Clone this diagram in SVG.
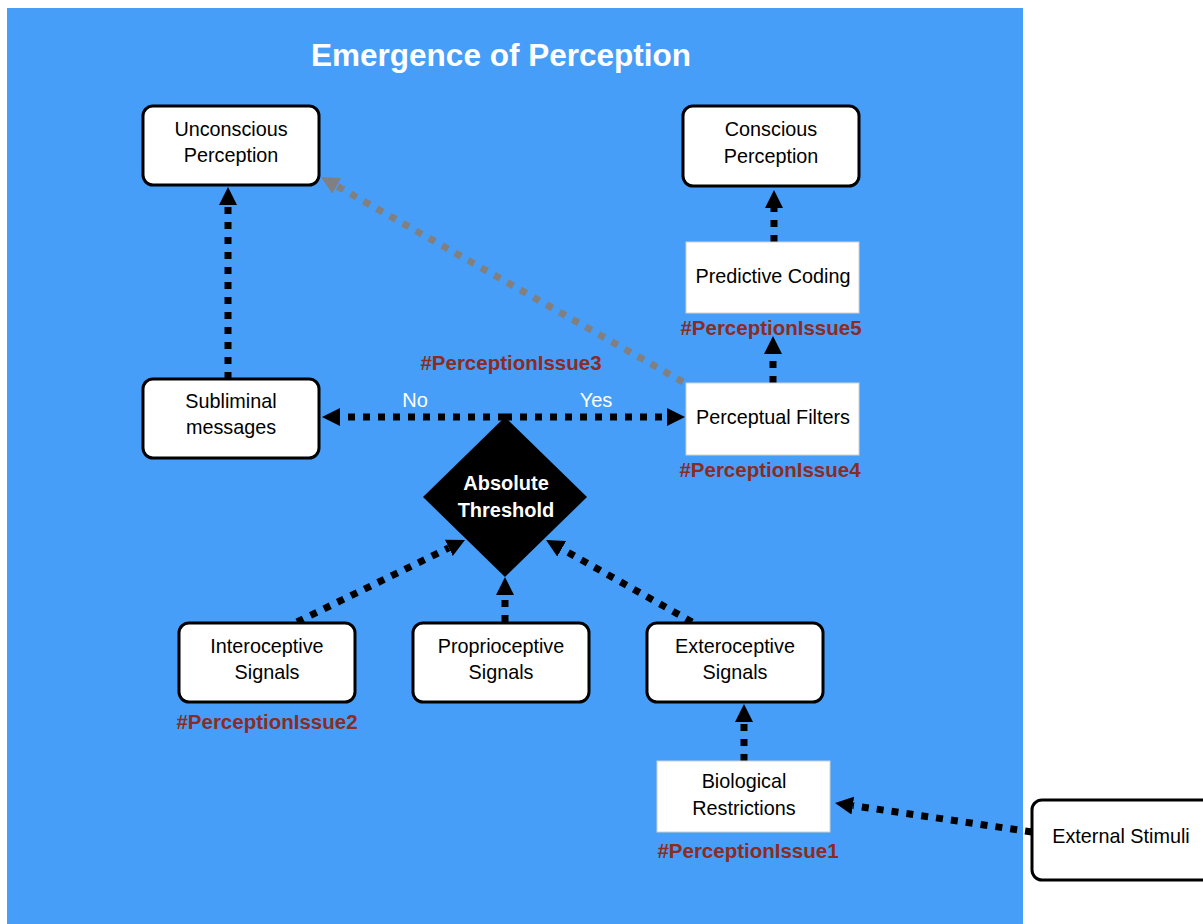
<svg xmlns="http://www.w3.org/2000/svg" width="1203" height="924" viewBox="0 0 1203 924">
  <style>
    .node rect.round { fill: #ffffff; stroke: #000000; stroke-width: 3; }
    .node rect.plain { fill: #ffffff; stroke: #d0d0d0; stroke-width: 1; }
    .label { font-family: "Liberation Sans", Arial, sans-serif; font-size: 19.8px; fill: #000000; text-anchor: middle; }
    .issue { font-family: "Liberation Sans", Arial, sans-serif; font-size: 20.5px; font-weight: bold; fill: #8c2b1f; text-anchor: middle; }
    .white { font-family: "Liberation Sans", Arial, sans-serif; fill: #ffffff; text-anchor: middle; }
    .link { fill: none; stroke: #000000; stroke-width: 7; stroke-dasharray: 7 8; }
    .link.gray { stroke: #808080; }
  </style>
  <defs>
    <marker id="head" markerUnits="userSpaceOnUse" markerWidth="20" markerHeight="20" refX="0" refY="9" orient="auto">
      <path d="M0,0 L18,9 L0,18 Z" fill="#000000"/>
    </marker>
    <marker id="head-gray" markerUnits="userSpaceOnUse" markerWidth="20" markerHeight="20" refX="0" refY="9" orient="auto">
      <path d="M0,0 L18,9 L0,18 Z" fill="#808080"/>
    </marker>
  </defs>

  <!-- panel -->
  <rect x="7" y="8" width="1016" height="916" fill="#479ef8"/>
  <text class="white" x="501" y="66" font-size="31.5" font-weight="bold">Emergence of Perception</text>

  <!-- connectors -->
  <g id="connectors">
    <path class="link" d="M228,379 L228,205" marker-end="url(#head)"/>
    <path class="link" d="M505,417 L340,417" marker-end="url(#head)"/>
    <path class="link" d="M505,417 L667,417" marker-end="url(#head)"/>
    <path class="link gray" d="M683,382 L336.7,185.9" marker-end="url(#head-gray)"/>
    <path class="link" d="M773,383 L773,354" marker-end="url(#head)"/>
    <path class="link" d="M774,242 L774,208" marker-end="url(#head)"/>
    <path class="link" d="M297,622 L448.8,547.9" marker-end="url(#head)"/>
    <path class="link" d="M505,622 L505,595" marker-end="url(#head)"/>
    <path class="link" d="M692,622 L561.7,548.8" marker-end="url(#head)"/>
    <path class="link" d="M744,761 L744,722" marker-end="url(#head)"/>
    <path class="link" d="M1032,832 L852.8,805.6" marker-end="url(#head)"/>
    <text class="white" x="415" y="407" font-size="20">No</text>
    <text class="white" x="596" y="407" font-size="20">Yes</text>
  </g>

  <!-- nodes -->
  <g id="unconscious" class="node">
    <rect class="round" x="143" y="106" width="176" height="79" rx="10"/>
    <text class="label" x="231" y="136">Unconscious</text>
    <text class="label" x="231" y="162">Perception</text>
  </g>
  <g id="conscious" class="node">
    <rect class="round" x="683" y="106" width="176" height="80" rx="10"/>
    <text class="label" x="771" y="136">Conscious</text>
    <text class="label" x="771" y="163">Perception</text>
  </g>
  <g id="predictive" class="node">
    <rect class="plain" x="686" y="242" width="173" height="71"/>
    <text class="label" x="773" y="283">Predictive Coding</text>
    <text class="issue" x="771" y="335">#PerceptionIssue5</text>
  </g>
  <g id="filters" class="node">
    <rect class="plain" x="686" y="383" width="173" height="72"/>
    <text class="label" x="773" y="424">Perceptual Filters</text>
    <text class="issue" x="770" y="477">#PerceptionIssue4</text>
  </g>
  <g id="subliminal" class="node">
    <rect class="round" x="143" y="379" width="176" height="79" rx="10"/>
    <text class="label" x="231" y="408">Subliminal</text>
    <text class="label" x="231" y="434">messages</text>
  </g>
  <g id="threshold" class="node">
    <path d="M505,417 L587,497 L505,577 L423,497 Z" fill="#000000"/>
    <text class="white" x="506" y="490" font-size="20" font-weight="bold">Absolute</text>
    <text class="white" x="506" y="517" font-size="20" font-weight="bold">Threshold</text>
    <text class="issue" x="511" y="370">#PerceptionIssue3</text>
  </g>
  <g id="interoceptive" class="node">
    <rect class="round" x="179" y="623" width="176" height="79" rx="10"/>
    <text class="label" x="267" y="653">Interoceptive</text>
    <text class="label" x="267" y="679">Signals</text>
    <text class="issue" x="267" y="729">#PerceptionIssue2</text>
  </g>
  <g id="proprioceptive" class="node">
    <rect class="round" x="413" y="623" width="176" height="79" rx="10"/>
    <text class="label" x="501" y="653">Proprioceptive</text>
    <text class="label" x="501" y="679">Signals</text>
  </g>
  <g id="exteroceptive" class="node">
    <rect class="round" x="647" y="623" width="176" height="79" rx="10"/>
    <text class="label" x="735" y="653">Exteroceptive</text>
    <text class="label" x="735" y="679">Signals</text>
  </g>
  <g id="biological" class="node">
    <rect class="plain" x="657" y="761" width="173" height="71"/>
    <text class="label" x="744" y="788">Biological</text>
    <text class="label" x="744" y="815">Restrictions</text>
    <text class="issue" x="748" y="858">#PerceptionIssue1</text>
  </g>
  <g id="external" class="node">
    <rect class="round" x="1032" y="800" width="180" height="80" rx="10"/>
    <text class="label" x="1121" y="843">External Stimuli</text>
  </g>
</svg>
